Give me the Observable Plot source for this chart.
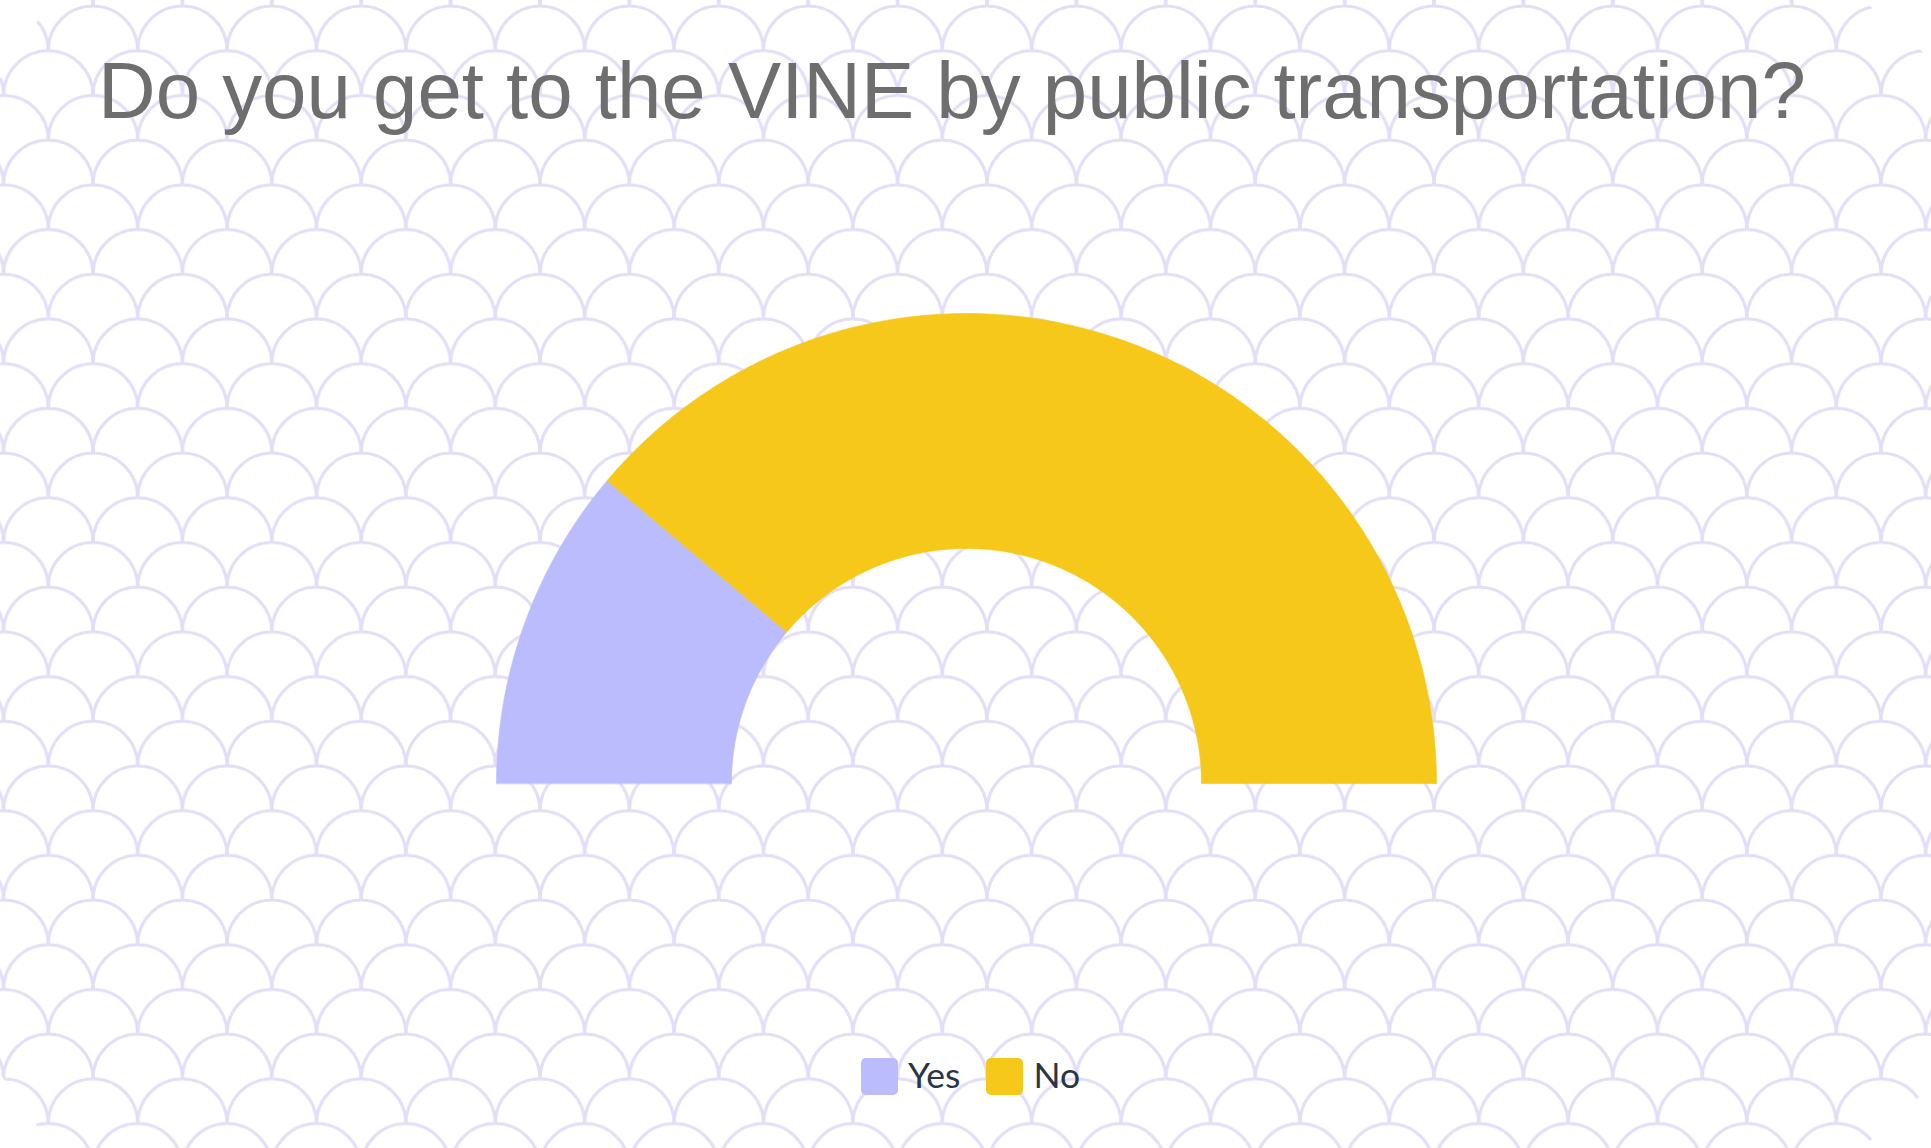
<!DOCTYPE html>
<html>
<head>
<meta charset="utf-8">
<script src="https://cdn.jsdelivr.net/npm/d3@7"></script>
<script src="https://cdn.jsdelivr.net/npm/@observablehq/plot@0.6"></script>
<style>
  html, body { margin: 0; padding: 0; background: #ffffff; }
  body { width: 1931px; height: 1148px; position: relative; overflow: hidden; }
  #bg { position: absolute; left: 0; top: 0; }
  #chart { position: absolute; left: 0; top: 0; }
  #title {
    position: absolute; left: 98px; top: 51px; white-space: nowrap;
    font-family: "Liberation Sans", Arial, sans-serif; font-size: 79.8px; line-height: 80px;
    color: #6e6e6e;
  }
  #legend {
    position: absolute; left: 861px; top: 1058px; height: 37px;
    display: flex; align-items: center; gap: 26px;
    font-family: Lato, sans-serif; font-size: 35.5px; color: #2a3546;
  }
  .item { display: flex; align-items: center; gap: 10px; }
  .item span { position: relative; top: -2px; }
  .sw { width: 37px; height: 37px; border-radius: 5px; }
</style>
</head>
<body>
<svg id="bg" width="1931" height="1148"></svg>
<div id="chart"></div>
<div id="title"></div>
<div id="legend"></div>
<script>
const title = "Do you get to the VINE by public transportation?";
const labels = ["Yes", "No"];
const values = [22.3, 77.7];
const colors = ["#babcfe", "#f6c819"];

// background scale pattern (decoration)
(function () {
  const p = 89.4, r = p / 2;
  const svg = d3.select("#bg");
  const pat = svg.append("defs").append("pattern")
    .attr("id", "scales").attr("patternUnits", "userSpaceOnUse")
    .attr("x", 48.3).attr("y", 6).attr("width", p).attr("height", p);
  const centers = [];
  for (let i = -1; i <= 1; i++) for (let j = -1; j <= 1; j++) {
    centers.push([r + i * p, r + j * p]);
    centers.push([i * p, p + j * p]);
  }
  pat.selectAll("path").data(centers).join("path")
    .attr("d", ([cx, cy]) => `M${cx - r},${cy} A${r},${r} 0 0 1 ${cx + r},${cy}`)
    .attr("fill", "none").attr("stroke", "#e4ddf8").attr("stroke-width", 3);
  svg.append("rect").attr("width", 1931).attr("height", 1148).attr("fill", "url(#scales)");
  const corners = [
    "0,0 51,0 0,79",
    "1863,0 1931,0 1931,59",
    "0,1074 0,1148 53,1148",
    "1931,1086 1931,1148 1862,1148"
  ];
  svg.selectAll("polygon").data(corners).join("polygon")
    .attr("points", d => d).attr("fill", "#ffffff");
})();

document.getElementById("title").textContent = title;

// half-donut geometry from the data
const W = 1931, H = 1148, cx = 966, cy = 783, R = 470, rInner = 0.5;
const total = d3.sum(values);
const pts = [];
let acc = 0;
labels.forEach((lab, i) => {
  const a0 = Math.PI * (1 - acc / total);
  acc += values[i];
  const a1 = Math.PI * (1 - acc / total);
  const n = 200;
  for (let k = 0; k <= n; k++) {
    const a = a0 + (a1 - a0) * k / n;
    pts.push({label: lab, x: Math.cos(a), y: Math.sin(a)});
  }
  for (let k = n; k >= 0; k--) {
    const a = a0 + (a1 - a0) * k / n;
    pts.push({label: lab, x: rInner * Math.cos(a), y: rInner * Math.sin(a)});
  }
});

const chart = Plot.plot({
  width: W, height: H,
  margin: 0,
  style: {background: "transparent", overflow: "visible"},
  x: {domain: [-cx / R, (W - cx) / R], axis: null},
  y: {domain: [-(H - cy) / R, cy / R], axis: null},
  color: {domain: labels, range: colors},
  marks: [
    Plot.line(pts, {x: "x", y: "y", z: "label", fill: "label", stroke: "label", strokeWidth: 0.6, curve: "linear-closed"})
  ]
});
document.getElementById("chart").appendChild(chart);

const legend = d3.select("#legend");
labels.forEach((lab, i) => {
  const it = legend.append("div").attr("class", "item");
  it.append("div").attr("class", "sw").style("background", colors[i]);
  it.append("span").text(lab);
});
</script>
</body>
</html>
